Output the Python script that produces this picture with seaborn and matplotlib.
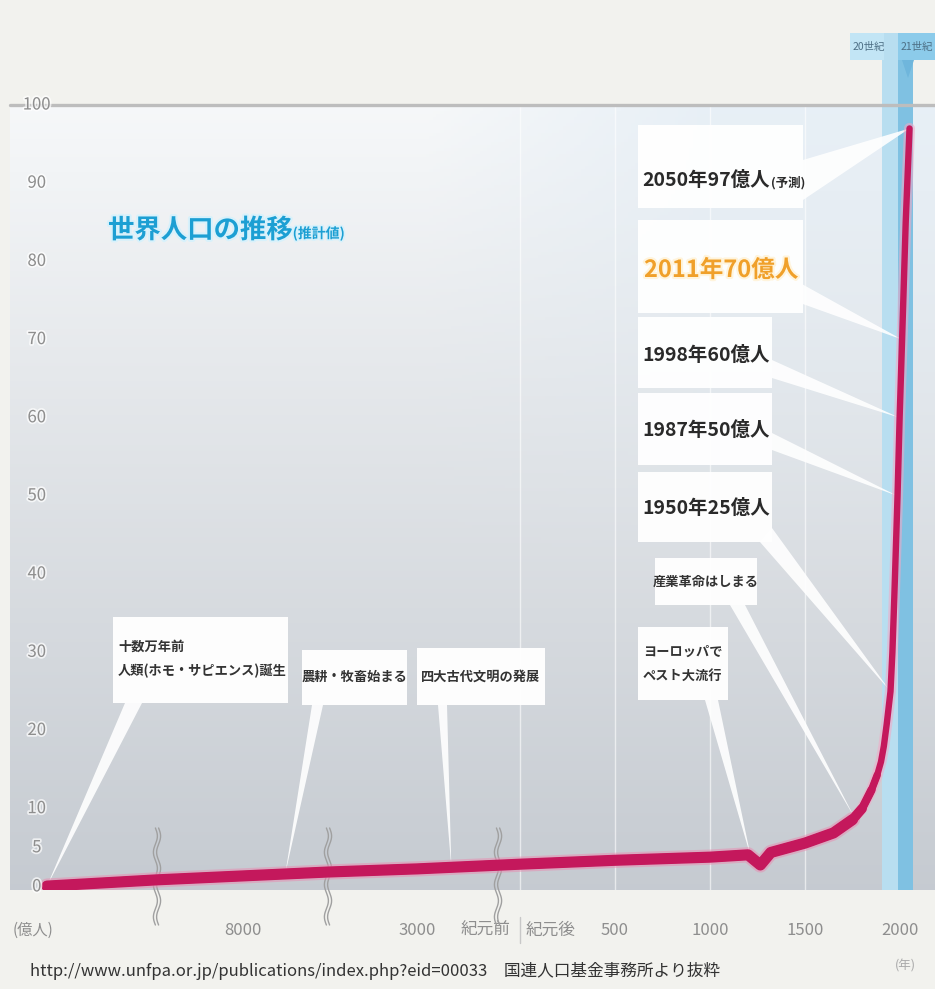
import numpy as np
import pandas as pd
import matplotlib
matplotlib.use("Agg")
import matplotlib.pyplot as plt
import matplotlib.patches as mpatches
import matplotlib.patheffects as pe
import matplotlib.transforms as mtransforms
import seaborn as sns

# ---- data (world population, 億人) ----
years = [-200000, -10000, -6000, -3000, 0, 500, 1000, 1200, 1265, 1320,
         1500, 1650, 1750, 1800, 1850, 1880, 1900, 1915, 1930, 1950, 1960, 1970,
         1987, 1998, 2011, 2030, 2050]
population = [0.1, 0.9, 1.9, 2.3, 2.9, 3.4, 3.8, 4.1, 2.8, 4.4,
              5.6, 6.9, 8.6, 10.0, 12.4, 14.3, 16.0, 18.0, 20.8, 25, 30, 37,
              50, 60, 70, 85, 97]

milestone_years = [2050, 2011, 1998, 1987, 1950]
milestone_labels = ['2050年97億人', '2011年70億人', '1998年60億人', '1987年50億人', '1950年25億人']

event_years = [-200000, -7000, -2000, 1215, 1760]
event_labels = ['十数万年前\n人類(ホモ・サピエンス)誕生', '農耕・牧畜始まる', '四大古代文明の発展',
                'ヨーロッパで\nペスト大流行', '産業革命はしまる']

tick_years = [-8000, -3000, -1000, 160, 500, 1000, 1500, 2000]
tick_labels = ['8000', '3000', '紀元前', '紀元後', '500', '1000', '1500', '2000']
ytick_values = [0, 5, 10, 20, 30, 40, 50, 60, 70, 80, 90, 100]
grid_years = [0, 500, 1000, 1500]
break_years = [-10000, -6000, -640]
century_spans = [(1905, 1990), (1990, 2070)]
century_labels = ['20世紀', '21世紀']

# piecewise (broken) time axis: year -> horizontal position
axis_years = [-230000, -200000, -10000, -6000, -3000, 0, 2000, 2184]
axis_pos = [10, 47, 157, 328, 417, 520, 900, 935]

W, H = 935, 989
LINE = '#c4185c'
GRAY = '#8e8e8e'

sns.set_theme(style="white")
plt.rcParams['font.family'] = ['Noto Sans CJK JP', 'DejaVu Sans']
NUM_FONT = ['Liberation Sans Narrow', 'Noto Sans CJK JP', 'DejaVu Sans']


def fx(x):
    return x / W


def fy(y):
    return 1 - y / H


fig = plt.figure(figsize=(W / 100, H / 100), dpi=100, facecolor='#f2f2ee')
ax = fig.add_axes([fx(10), fy(890), fx(925), 785 / H])
ax.set_facecolor('#dfe3e7')

ax.set_xscale('function', functions=(lambda v: np.interp(v, axis_years, axis_pos),
                                     lambda p: np.interp(p, axis_pos, axis_years)))

# background gradient
ny, nx = 256, 256
yy = np.linspace(0, 1, ny)[:, None]
xx = np.linspace(0, 1, nx)[None, :]
top = np.array([0.965, 0.972, 0.978])
bottom = np.array([0.775, 0.795, 0.82])
base = top + (bottom - top) * yy[..., None]
tint = np.array([0.84, 0.90, 0.95])
w = np.clip((xx - 0.45) / 0.3, 0, 1) * np.clip(1 - yy / 0.6, 0, 1) * 0.45
img = base * (1 - w[..., None]) + tint * w[..., None]
ax.imshow(img, extent=(0, 1, 0, 1), transform=ax.transAxes, aspect='auto', zorder=0)

ax.set_xlim(axis_years[0], axis_years[-1])
ax.set_ylim(-0.4, 100)
ax.autoscale(False)

# grid & century bands
for g in grid_years:
    ax.axvline(g, color='white', alpha=0.6, lw=1, zorder=1)
ax.axhline(100, color='#bdbdbd', lw=2.4, zorder=2, clip_on=False)
band_top = (890 - 33) / 785
ax.axvspan(*century_spans[0], ymin=0, ymax=band_top, color='#b8def0', zorder=1.5, clip_on=False, lw=0)
ax.axvspan(*century_spans[1], ymin=0, ymax=(890 - 60) / 785, color='#7fc1e2', zorder=1.5,
           clip_on=False, lw=0)

# population curve: thin full line, thicker tapering stroke for the long flat part
df = pd.DataFrame({'year': years, 'pop': population})
sns.lineplot(data=df, x='year', y='pop', ax=ax, color=LINE, lw=4.6, sort=False,
             zorder=6, solid_capstyle='round',
             path_effects=[pe.withStroke(linewidth=8, foreground='#f3a9c6', alpha=0.55)])
taper_ends = [1750, 1800, 1850, 1880]
taper_widths = [8, 7, 6, 5.3]
for k, (end, lw) in enumerate(zip(taper_ends, taper_widths)):
    effects = [pe.withStroke(linewidth=11, foreground='#e98bb0', alpha=0.5)] if k == 0 else None
    sns.lineplot(data=df[df['year'] <= end], x='year', y='pop', ax=ax, color=LINE, lw=lw,
                 sort=False, zorder=6.1, solid_capstyle='round', path_effects=effects)
ax.set_xlabel('')
ax.set_ylabel('')
ax.set_xticks([])
ax.set_yticks([])
sns.despine(ax=ax, left=True, bottom=True)

# axis labels drawn as text
xtrans = mtransforms.blended_transform_factory(ax.transData, ax.transAxes)
ytrans = mtransforms.blended_transform_factory(ax.transAxes, ax.transData)
halo = [pe.withStroke(linewidth=2.5, foreground='white', alpha=0.7)]
for v in ytick_values:
    ax.text(0.029, v, str(v), transform=ytrans, ha='center', va='center', fontsize=12,
            color=GRAY, family=NUM_FONT, zorder=7, path_effects=halo)
for yr, lab in zip(tick_years, tick_labels):
    ax.text(yr, -0.051, lab, transform=xtrans, ha='center', va='center', fontsize=12,
            color=GRAY, family=NUM_FONT, clip_on=False)
ax.plot([0, 0], [-0.034, -0.068], transform=xtrans, color='#c8c8c8', lw=1, clip_on=False)
fig.text(fx(33), fy(930), '(億人)', ha='center', va='center', fontsize=11, color=GRAY)
fig.text(fx(905), fy(966), '(年)', ha='center', va='center', fontsize=9, color='#aaaaaa')

# wavy break marks
t = np.linspace(828, 925, 200)
for b in break_years:
    x0 = ax.transData.transform((b, 0))[0]
    for off in (-1.6, 1.6):
        xs = x0 + off + 2.0 * np.sin((t - 828) / 97 * 2 * np.pi * 3)
        ax.plot(fx(xs), fy(t), transform=fig.transFigure, color='#a0a0a0', lw=1.0,
                clip_on=False, zorder=5)

to_fig = fig.transFigure.inverted()


def tip_of(year):
    val = np.interp(year, years, population)
    return to_fig.transform(ax.transData.transform((year, val)))


def wedge(base1, base2, tip):
    poly = mpatches.Polygon([(fx(base1[0]), fy(base1[1])), (fx(base2[0]), fy(base2[1])), tuple(tip)],
                            closed=True, transform=fig.transFigure, facecolor='white',
                            edgecolor='none', alpha=0.9, zorder=3, clip_on=False)
    ax.add_patch(poly)


def box(x0, y0, x1, y1):
    r = mpatches.Rectangle((fx(x0), fy(y1)), (x1 - x0) / W, (y1 - y0) / H,
                           transform=fig.transFigure, facecolor='white', edgecolor='none',
                           alpha=0.96, zorder=3.5, clip_on=False)
    ax.add_patch(r)


# milestone call-outs (box, wedge base on right edge, text centre y)
ms_boxes = [(638, 125, 803, 208), (638, 220, 803, 313), (638, 317, 772, 388),
            (638, 393, 772, 465), (638, 472, 772, 542)]
ms_bases = [((803, 160), (803, 200)), ((800, 283), (800, 303)), ((772, 360), (772, 378)),
            ((772, 433), (772, 450)), ((760, 542), (772, 528))]
ms_text_y = [180, 270, 355, 430, 508]
for i, (yr, lab) in enumerate(zip(milestone_years, milestone_labels)):
    box(*ms_boxes[i])
    wedge(*ms_bases[i], tip_of(yr))
    if i == 1:
        ax.text(fx(644), fy(ms_text_y[i]), lab, transform=fig.transFigure, ha='left', va='center',
                fontsize=17, weight='bold', color='#f0a02a', zorder=7,
                path_effects=[pe.withStroke(linewidth=3, foreground='#fff4dc')])
    else:
        tt = ax.text(fx(642), fy(ms_text_y[i]), lab, transform=fig.transFigure, ha='left',
                     va='center', fontsize=14, weight='bold', color='#2a2a2a', zorder=7)
        if i == 0:
            fig.canvas.draw()
            bb = tt.get_window_extent()
            ax.text(bb.x1 / W + 0.001, fy(ms_text_y[i] + 3), '(予測)', transform=fig.transFigure,
                    ha='left', va='center', fontsize=9, weight='bold', color='#2a2a2a', zorder=7)

# history call-outs
ev_boxes = [(113, 617, 288, 703), (302, 650, 407, 705), (417, 648, 545, 705),
            (638, 627, 728, 700), (655, 558, 757, 605)]
ev_bases = [((125, 703), (142, 703)), ((312, 705), (323, 705)), ((438, 705), (447, 705)),
            ((705, 700), (718, 700)), ((730, 605), (745, 605))]
ev_text = [(118, 659, 'left'), (355, 677, 'center'), (481, 677, 'center'),
           (643, 664, 'left'), (706, 582, 'center')]
for i, (yr, lab) in enumerate(zip(event_years, event_labels)):
    box(*ev_boxes[i])
    wedge(*ev_bases[i], tip_of(yr))
    x, y, ha = ev_text[i]
    ax.text(fx(x), fy(y), lab, transform=fig.transFigure, ha=ha, va='center', fontsize=9.5,
            weight='bold', color='#333333', linespacing=1.9, zorder=7)

# century labels above the chart
c_boxes = [(850, 33, 884, 60), (898, 33, 940, 60)]
c_colors = ['#c2e5f5', '#8ccbea']
for (x0, y0, x1, y1), col, lab in zip(c_boxes, c_colors, century_labels):
    fig.patches.append(mpatches.Rectangle((fx(x0), fy(y1)), (x1 - x0) / W, (y1 - y0) / H,
                                          transform=fig.transFigure, facecolor=col,
                                          edgecolor='none', zorder=1))
    fig.text(fx(x0 + 3), fy((y0 + y1) / 2), lab, ha='left', va='center', fontsize=7.5,
             color='#4d6f85', zorder=2)
fig.patches.append(mpatches.Polygon([(fx(902), fy(60)), (fx(914), fy(60)), (fx(908), fy(78))],
                                    closed=True, transform=fig.transFigure,
                                    facecolor='#6fb6dc', edgecolor='none', zorder=1))

# title
title = ax.text(fx(108), fy(238), '世界人口の推移', transform=fig.transFigure, ha='left',
                va='baseline', fontsize=19, weight='bold', color='#1c9fd3', zorder=7,
                path_effects=[pe.withStroke(linewidth=3, foreground='#d8f1fb')])
fig.canvas.draw()
tb = title.get_window_extent()
ax.text(tb.x1 / W, fy(238), '(推計値)', transform=fig.transFigure, ha='left', va='baseline',
        fontsize=10, weight='bold', color='#1c9fd3', zorder=7,
        path_effects=[pe.withStroke(linewidth=2.5, foreground='#d8f1fb')])

# source
fig.text(fx(30), fy(971), 'http://www.unfpa.or.jp/publications/index.php?eid=00033\u3000国連人口基金事務所より抜粋',
         ha='left', va='center', fontsize=12, color='#333333')

fig.savefig('out.png', dpi=100, facecolor=fig.get_facecolor())
